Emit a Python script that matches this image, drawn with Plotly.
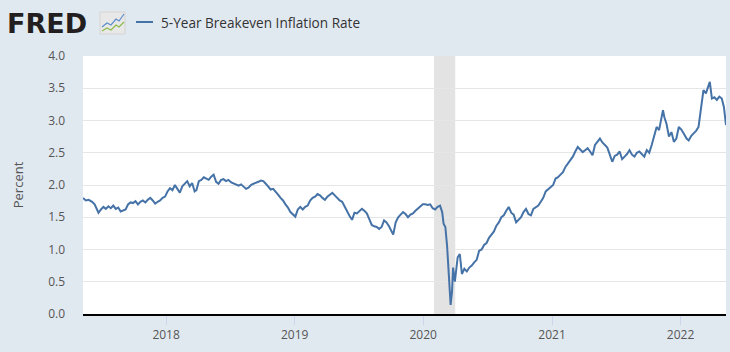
import plotly.graph_objects as go

# ---- data ----
dates = [
    "2017-05-10", "2017-05-18", "2017-05-26", "2017-06-05", "2017-06-12", "2017-06-19", "2017-06-23", "2017-06-30",
    "2017-07-07", "2017-07-14", "2017-07-21", "2017-07-28", "2017-08-04", "2017-08-11", "2017-08-18", "2017-08-25",
    "2017-09-01", "2017-09-08", "2017-09-15", "2017-09-22", "2017-09-29", "2017-10-06", "2017-10-13", "2017-10-20",
    "2017-10-27", "2017-11-03", "2017-11-10", "2017-11-17", "2017-11-24", "2017-12-01", "2017-12-08", "2017-12-15",
    "2017-12-22", "2017-12-29",
    "2018-01-05", "2018-01-12", "2018-01-19", "2018-01-26", "2018-02-02", "2018-02-09", "2018-02-16", "2018-02-23",
    "2018-03-02", "2018-03-09", "2018-03-16", "2018-03-23", "2018-03-28", "2018-04-04", "2018-04-11", "2018-04-18",
    "2018-04-25", "2018-05-02", "2018-05-09", "2018-05-16", "2018-05-23", "2018-05-30", "2018-06-06", "2018-06-13",
    "2018-06-20", "2018-06-27", "2018-07-05", "2018-07-12", "2018-07-19", "2018-07-26", "2018-08-02", "2018-08-09",
    "2018-08-16", "2018-08-23", "2018-08-30", "2018-09-06", "2018-09-13", "2018-09-20", "2018-09-27", "2018-10-04",
    "2018-10-11", "2018-10-18", "2018-10-25", "2018-11-01", "2018-11-08", "2018-11-15", "2018-11-22", "2018-11-29",
    "2018-12-06", "2018-12-13", "2018-12-20", "2018-12-27",
    "2019-01-03", "2019-01-10", "2019-01-17", "2019-01-24", "2019-01-31", "2019-02-07", "2019-02-14", "2019-02-21",
    "2019-02-28", "2019-03-07", "2019-03-14", "2019-03-21", "2019-03-28", "2019-04-04", "2019-04-11", "2019-04-18",
    "2019-04-25", "2019-05-02", "2019-05-09", "2019-05-16", "2019-05-23", "2019-05-30", "2019-06-06", "2019-06-13",
    "2019-06-20", "2019-06-27", "2019-07-04", "2019-07-11", "2019-07-18", "2019-07-25", "2019-08-01", "2019-08-08",
    "2019-08-15", "2019-08-22", "2019-08-29", "2019-09-05", "2019-09-12", "2019-09-19", "2019-09-26", "2019-10-03",
    "2019-10-08", "2019-10-15", "2019-10-22", "2019-10-29", "2019-11-05", "2019-11-12", "2019-11-19", "2019-11-26",
    "2019-12-03", "2019-12-10", "2019-12-17", "2019-12-24", "2019-12-31",
    "2020-01-07", "2020-01-14", "2020-01-21", "2020-01-28", "2020-02-04", "2020-02-11", "2020-02-18", "2020-02-24",
    "2020-02-28", "2020-03-04", "2020-03-09", "2020-03-12", "2020-03-16", "2020-03-19", "2020-03-23", "2020-03-26",
    "2020-03-31", "2020-04-03", "2020-04-08", "2020-04-14", "2020-04-20", "2020-04-27", "2020-05-04", "2020-05-11",
    "2020-05-18", "2020-05-25", "2020-06-01", "2020-06-08", "2020-06-15", "2020-06-22", "2020-06-29", "2020-07-06",
    "2020-07-13", "2020-07-20", "2020-07-27", "2020-08-03", "2020-08-10", "2020-08-17", "2020-08-24", "2020-08-31",
    "2020-09-07", "2020-09-14", "2020-09-21", "2020-09-28", "2020-10-05", "2020-10-12", "2020-10-19", "2020-10-26",
    "2020-11-02", "2020-11-09", "2020-11-16", "2020-11-23", "2020-11-30", "2020-12-07", "2020-12-14", "2020-12-21",
    "2020-12-28",
    "2021-01-04", "2021-01-11", "2021-01-18", "2021-01-25", "2021-02-01", "2021-02-08", "2021-02-15", "2021-02-22",
    "2021-03-01", "2021-03-08", "2021-03-15", "2021-03-22", "2021-03-29", "2021-04-05", "2021-04-12", "2021-04-19",
    "2021-04-26", "2021-05-03", "2021-05-10", "2021-05-17", "2021-05-24", "2021-05-31", "2021-06-07", "2021-06-14",
    "2021-06-21", "2021-06-28", "2021-07-05", "2021-07-12", "2021-07-19", "2021-07-26", "2021-08-02", "2021-08-09",
    "2021-08-16", "2021-08-23", "2021-08-30", "2021-09-06", "2021-09-13", "2021-09-20", "2021-09-27", "2021-10-04",
    "2021-10-11", "2021-10-18", "2021-10-25", "2021-11-01", "2021-11-08", "2021-11-12", "2021-11-16", "2021-11-22",
    "2021-11-29", "2021-12-06", "2021-12-13", "2021-12-20", "2021-12-27",
    "2022-01-03", "2022-01-10", "2022-01-18", "2022-01-24", "2022-01-31", "2022-02-07", "2022-02-14", "2022-02-21",
    "2022-02-28", "2022-03-07", "2022-03-14", "2022-03-21", "2022-03-25", "2022-03-31", "2022-04-07", "2022-04-14",
    "2022-04-21", "2022-04-28", "2022-05-04", "2022-05-10",
]
values = [
    1.80, 1.76, 1.77, 1.74, 1.70, 1.60, 1.57, 1.62,
    1.66, 1.63, 1.67, 1.64, 1.68, 1.63, 1.65, 1.59,
    1.60, 1.62, 1.70, 1.73, 1.72, 1.75, 1.70, 1.74,
    1.76, 1.73, 1.77, 1.80, 1.76, 1.71, 1.74, 1.76,
    1.80, 1.82,
    1.90, 1.95, 1.92, 2.00, 1.94, 1.88, 1.98, 2.02,
    2.06, 1.98, 2.03, 1.90, 1.92, 2.06, 2.08, 2.12,
    2.10, 2.08, 2.13, 2.16, 2.05, 2.02, 2.08, 2.09,
    2.06, 2.08, 2.04, 2.02, 2.00, 1.99, 2.01, 1.97,
    1.94, 1.96, 2.00, 2.02, 2.03, 2.05, 2.07, 2.06,
    2.02, 1.98, 1.93, 1.94, 1.90, 1.85, 1.80, 1.76,
    1.70, 1.65, 1.58, 1.54,
    1.51, 1.62, 1.66, 1.62, 1.66, 1.68, 1.76, 1.80,
    1.82, 1.86, 1.84, 1.80, 1.77, 1.82, 1.85, 1.88,
    1.84, 1.80, 1.76, 1.74, 1.66, 1.60, 1.52, 1.46,
    1.57, 1.56, 1.60, 1.63, 1.60, 1.56, 1.47, 1.38,
    1.36, 1.35, 1.32, 1.35, 1.45, 1.42, 1.36, 1.27,
    1.23, 1.42, 1.50, 1.54, 1.58, 1.55, 1.50, 1.54,
    1.56, 1.60, 1.63, 1.67, 1.70,
    1.70, 1.69, 1.70, 1.64, 1.62, 1.66, 1.68, 1.58,
    1.40, 1.35, 1.05, 0.75, 0.45, 0.14, 0.35, 0.72,
    0.50, 0.68, 0.88, 0.93, 0.62, 0.70, 0.66, 0.72,
    0.75, 0.80, 0.84, 0.98, 1.00, 1.07, 1.10, 1.18,
    1.24, 1.28, 1.37, 1.42, 1.50, 1.53, 1.60, 1.66,
    1.57, 1.54, 1.42, 1.46, 1.50, 1.58, 1.63, 1.55,
    1.53, 1.63, 1.65, 1.68, 1.74, 1.80, 1.90, 1.93,
    1.96,
    2.00, 2.10, 2.12, 2.16, 2.20, 2.28, 2.33, 2.38,
    2.44, 2.52, 2.59, 2.55, 2.51, 2.54, 2.57, 2.52,
    2.46, 2.62, 2.67, 2.72, 2.66, 2.62, 2.58, 2.47,
    2.36, 2.45, 2.47, 2.52, 2.40, 2.44, 2.48, 2.54,
    2.47, 2.44, 2.50, 2.52, 2.48, 2.44, 2.54, 2.50,
    2.62, 2.76, 2.90, 2.85, 3.03, 3.16, 3.05, 2.95,
    2.75, 2.82, 2.67, 2.72, 2.90,
    2.86, 2.80, 2.72, 2.69, 2.76, 2.80, 2.84, 2.90,
    3.21, 3.47, 3.42, 3.55, 3.60, 3.34, 3.36, 3.32,
    3.37, 3.34, 3.21, 2.93,
]
series_name = "5-Year Breakeven Inflation Rate"
recession_start = "2020-02-01"
recession_end = "2020-04-01"
y_ticks = [0.0, 0.5, 1.0, 1.5, 2.0, 2.5, 3.0, 3.5, 4.0]
x_tick_years = ["2018", "2019", "2020", "2021", "2022"]

# ---- figure ----
W, H = 730, 352
ML, MR, MT, MB = 83, 4, 56, 38
pw, ph = W - ML - MR, H - MT - MB


def px(x):
    return (x - ML) / pw


def py(y):
    return (H - MB - y) / ph


fig = go.Figure()
fig.add_trace(go.Scatter(
    x=dates, y=values, mode="lines", name=series_name,
    line=dict(color="#4572a7", width=2), showlegend=False,
))

fig.add_vrect(x0=recession_start, x1=recession_end, fillcolor="#e3e3e3",
              line_width=0, layer="below")

font_fam = "Open Sans, Arial, sans-serif"

fig.update_layout(
    width=W, height=H,
    margin=dict(l=ML, r=MR, t=MT, b=MB, pad=0),
    paper_bgcolor="#e1e9f0",
    plot_bgcolor="#ffffff",
    font=dict(family=font_fam, color="#555555", size=12),
    xaxis=dict(
        type="date",
        range=[dates[0], dates[-1]],
        tickvals=[y + "-01-01" for y in x_tick_years],
        ticktext=x_tick_years,
        showgrid=False,
        showline=True, linecolor="#000000", linewidth=2,
        ticks="outside", ticklen=9, tickcolor="#ccd6eb", tickwidth=1,
        tickfont=dict(size=12, color="#555555"),
        zeroline=False,
    ),
    yaxis=dict(
        range=[0, 4],
        tickvals=y_ticks,
        tickformat=".1f",
        showgrid=True, gridcolor="#e6e6e6", gridwidth=1,
        zeroline=False, showline=False,
        ticks="", ticklabelstandoff=17,
        tickfont=dict(size=12, color="#555555"),
        title=dict(text="Percent", font=dict(size=13, color="#555555"), standoff=21),
    ),
)

# FRED logo text
fig.add_annotation(
    x=px(5), y=py(23), xref="paper", yref="paper", xanchor="left", yanchor="middle",
    text="<b>FRED</b>", showarrow=False,
    font=dict(family="DejaVu Sans, Arial Black, sans-serif", size=27, color="#231f20"),
)
# small chart icon next to the logo
fig.add_shape(type="rect", xref="paper", yref="paper",
              x0=px(100), x1=px(125), y0=py(34), y1=py(12),
              fillcolor="#e8e8e8", line=dict(color="#d4d4d4", width=1))
fig.add_shape(type="path", xref="paper", yref="paper",
              path=f"M {px(102)} {py(27)} L {px(107)} {py(23)} L {px(111)} {py(25)} L {px(116)} {py(19)} L {px(119)} {py(21)} L {px(124)} {py(14)}",
              line=dict(color="#5b8dc9", width=1.2))
fig.add_shape(type="path", xref="paper", yref="paper",
              path=f"M {px(102)} {py(31)} L {px(107)} {py(28)} L {px(111)} {py(30)} L {px(116)} {py(25)} L {px(119)} {py(27)} L {px(124)} {py(22)}",
              line=dict(color="#8dbb4a", width=1.2))

# legend line + text
fig.add_shape(type="line", xref="paper", yref="paper",
              x0=px(136), x1=px(153), y0=py(22), y1=py(22),
              line=dict(color="#4572a7", width=2))
fig.add_annotation(
    x=px(159), y=py(22), xref="paper", yref="paper", xanchor="left", yanchor="middle",
    text=series_name, showarrow=False,
    font=dict(family=font_fam, size=13.6, color="#333333"),
)

fig.write_html("out.html")
